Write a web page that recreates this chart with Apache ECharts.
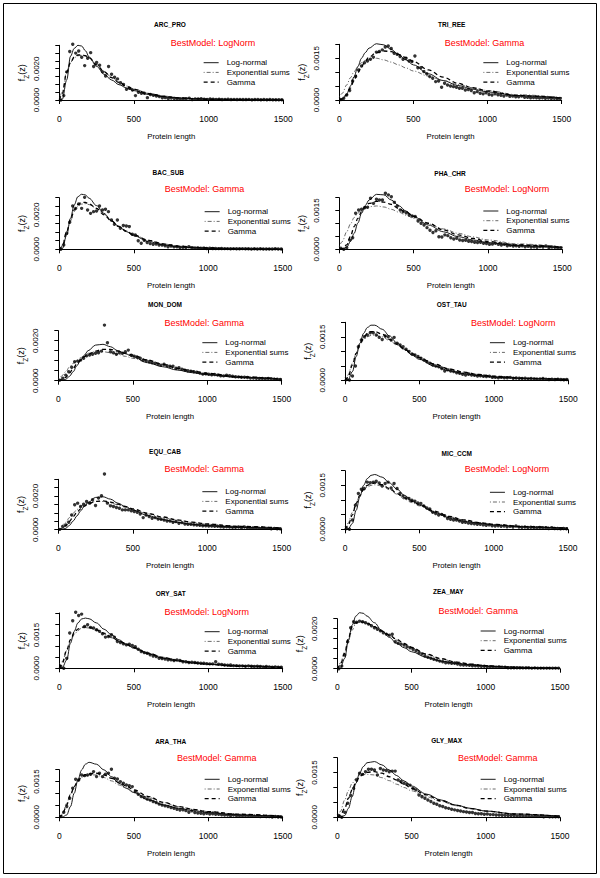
<!DOCTYPE html>
<html>
<head>
<meta charset="utf-8">
<title>Protein length distributions</title>
<script src="https://cdn.jsdelivr.net/npm/echarts@6/dist/echarts.min.js"></script>
<style>
  html, body { margin: 0; padding: 0; background: #fff; }
  #chart { width: 600px; height: 878px; }
</style>
</head>
<body>
<div id="chart"></div>
<script>
// all densities below are in units of 1e-4
const PANEL_NAMES = ['ARC_PRO', 'TRI_REE', 'BAC_SUB', 'PHA_CHR', 'MON_DOM', 'OST_TAU',
  'EQU_CAB', 'MIC_CCM', 'ORY_SAT', 'ZEA_MAY', 'ARA_THA', 'GLY_MAX'];
const BEST_MODELS = ['LogNorm', 'Gamma', 'Gamma', 'LogNorm', 'Gamma', 'LogNorm',
  'Gamma', 'LogNorm', 'LogNorm', 'Gamma', 'Gamma', 'Gamma'];
const LEGEND_NAMES = ['Log-normal', 'Exponential sums', 'Gamma'];
const X_TICKS = [0, 500, 1000, 1500];
// last tick of each y axis, and the ticks R printed a label for
const Y_TOPS = [0.0035, 0.0020, 0.0030, 0.0020, 0.0025, 0.0020, 0.0030, 0.0020, 0.0025, 0.0025, 0.0020, 0.0020];
const Y_LABELLED = [[0, 0.002], [0, 0.0015], [0, 0.002], [0, 0.0015], [0, 0.002], [0, 0.0015],
  [0, 0.002], [0, 0.0015], [0, 0.0015], [0, 0.002], [0, 0.0015], [0, 0.0015]];

const PTS_X = [10, 30, 50, 70, 90, 110, 130, 150, 170, 190, 210, 230, 250, 270, 290, 310, 330, 350, 370, 390,
  410, 430, 450, 470, 490, 510, 530, 550, 570, 590, 610, 630, 650, 670, 690, 710, 730, 750, 770, 790,
  810, 830, 850, 870, 890, 910, 930, 950, 970, 990, 1010, 1030, 1050, 1070, 1090, 1110, 1130, 1150, 1170, 1190,
  1210, 1230, 1250, 1270, 1290, 1310, 1330, 1350, 1370, 1390, 1410, 1430, 1450, 1470, 1490];
const CURVE_X = [0, 20, 50, 75, 100, 125, 150, 175, 200, 250, 300, 350, 400, 450, 500, 600, 700, 800, 900, 1000, 1200, 1500];

const ARC_PRO_PTS = [0, 2.8, 18, 31, 35.7, 30, 31.4, 27.4, 22, 26.7, 30.3, 21.4, 24, 22.2, 18, 15.4, 21.4, 16.5, 14.5, 13.5,
  11, 10, 6.8, 7.5, 6.4, 2.8, 5, 4.3, 4.3, 1.5,
  3.5, 3, 2.6, 2.2, 1.4, 1.5, 1, 1.2, 1, 0.8, 0.6, 0.7, 0.8, 1.2, 0.3, 0.7, 0.6, 0.8, 0.5, 0.4,
  0.6, 0.5, 0.4, 0.5, 0.3, 0.4, 0.5, 0.3, 0.4, 0.3, 0.4, 0.3, 0.3, 0.4, 0.2, 0.3, 0.3, 0.2, 0.3, 0.2, 0.3, 0.2, 0.2, 0.2, 0.2];
const ARC_PRO_LN = [0, 0.5, 13, 28, 33, 35, 34.5, 31.5, 27.5, 21.5, 16.5, 12.8, 9.8, 7.7, 6, 3.5, 2.1, 1.3, 0.85, 0.55, 0.25, 0.09];
const ARC_PRO_EXP = [1, 5, 18.5, 24, 27, 28.3, 28.6, 28, 27, 22.8, 18.3, 14.6, 11.5, 9, 7, 4.2, 2.5, 1.5, 0.9, 0.5, 0.17, 0.03];
const ARC_PRO_GAM = [0, 4, 18, 24, 27.5, 28.8, 29, 28.3, 27, 22.5, 18, 14.3, 11.2, 8.7, 6.8, 4.1, 2.4, 1.4, 0.8, 0.45, 0.15, 0.03];

const TRI_REE_PTS = [0.2, 0.6, 1.8, 3.4, 6.8, 8.4, 10.8, 12.2, 13.4, 14, 14.6, 15.4, 17.2, 17.4, 18, 19, 19.4, 18.5, 16.8, 16.4,
  15.6, 14.6, 15, 14, 13.8, 15.8, 11.6, 11.6, 10.2, 9.4,
  8.4, 7.8, 6.6, 6.8, 4.6, 6, 5.4, 5, 4.8, 4.6, 4.2, 4.2, 3.6, 3.8, 3.4, 2.6, 3, 2.4, 2.2, 2.6,
  2, 1.8, 2.2, 1.9, 1.7, 1.4, 1.8, 1.3, 1.4, 1.2, 1.2, 1.4, 1, 1, 0.8, 0.9, 0.8, 0.7, 0.8, 0.6, 0.7, 0.5, 0.6, 0.4, 0.5];
const TRI_REE_LN = [0, 0.2, 2.2, 5, 8.4, 12, 15, 17, 18.6, 20.2, 19.8, 18.2, 16.2, 14.4, 12.6, 9.4, 7, 5.2, 3.9, 2.9, 1.6, 0.8];
const TRI_REE_EXP = [1, 2.4, 5.4, 8, 10.2, 12, 13.4, 14.2, 14.6, 15, 14.4, 13.6, 12.6, 11.5, 10.4, 8.6, 7, 5.6, 4.4, 3.4, 1.9, 0.9];
const TRI_REE_GAM = [0, 0.4, 1.8, 4.3, 7.2, 9.8, 12, 14, 15.4, 17, 17.6, 17.4, 16.4, 15.2, 13.8, 10.8, 8.2, 6, 4.4, 3.2, 1.6, 0.6];

const BAC_SUB_PTS = [0, 2.5, 9.3, 15.7, 25.2, 23.8, 26.4, 23.8, 30.2, 22.9, 20.9, 21.9, 22.3, 25.2, 22.9, 23.3, 21.9, 17, 14.5, 17,
  12.2, 13.8, 13.6, 13.2, 8.7, 8.3, 5, 3.5, 5.2, 4,
  3.3, 2.9, 3.1, 2.5, 2.5, 2.1, 1.5, 1.9, 1.4, 1.5, 1, 1.2, 1, 1.5, 0.8, 0.7, 0.8, 0.6, 0.7, 0.5,
  0.6, 0.5, 0.5, 0.4, 0.5, 0.4, 0.4, 0.3, 0.4, 0.3, 0.3, 0.4, 0.3, 0.3, 0.2, 0.3, 0.2, 0.3, 0.2, 0.2, 0.2, 0.2, 0.3, 0.2, 0.2];
const BAC_SUB_LN = [0, 0.3, 8.3, 18, 25.8, 30.6, 32, 31.6, 29.7, 25.4, 20.9, 16.5, 13.2, 10.3, 7.9, 4.5, 2.5, 1.4, 0.9, 0.5, 0.25, 0.1];
const BAC_SUB_EXP = [1, 2.5, 10.5, 16.5, 22, 25, 26.3, 26.5, 26, 23.8, 20.3, 16.8, 13.5, 10.7, 8.4, 5.2, 3.1, 1.9, 1.2, 0.8, 0.3, 0.1];
const BAC_SUB_GAM = [0, 1.5, 10.3, 17, 22.9, 26, 27.3, 27.2, 26.4, 23.8, 20, 16.5, 13.2, 10.5, 8.3, 5.2, 3.1, 1.9, 1.2, 0.8, 0.3, 0.1];

const PHA_CHR_PTS = [0.4, 0, 0.6, 3.6, 4.5, 14, 15.2, 15.5, 16.1, 16.3, 19.8, 17.8, 19.4, 19.1, 19.1, 21.7, 21.1, 20.4, 18.2, 16.8,
  15.2, 14.6, 14.2, 13.3, 12.9, 12.7, 11, 10.1, 9.4, 8.4,
  7.4, 6.5, 7.2, 4.9, 4.8, 5.6, 5.3, 4.5, 4, 4.3, 3.6, 3.4, 3.5, 3.1, 3, 2.7, 2.6, 2.7, 2.3, 2.2,
  1.9, 2, 2.3, 1.9, 1.7, 1.9, 1.4, 1.6, 1.3, 1.4, 1.2, 1.4, 1, 1.2, 0.9, 1, 0.8, 1.1, 0.9, 1.3, 0.6, 0.9, 0.8, 0.5, 0.6];
const PHA_CHR_LN = [0, 0.1, 0.8, 3, 6.2, 10.2, 14, 17, 19.1, 21.3, 21.1, 19.1, 16.9, 14.8, 12.7, 9.4, 6.8, 4.9, 3.6, 2.6, 1.4, 0.6];
const PHA_CHR_EXP = [1, 3, 6.8, 9.8, 12.3, 14, 15.2, 16, 16.5, 16.8, 16.4, 15.5, 14.4, 13.2, 12, 9.8, 7.9, 6.2, 4.8, 3.6, 2.1, 0.9];
const PHA_CHR_GAM = [0, 0.3, 1.7, 5, 8.8, 12, 14.6, 16.5, 17.8, 18.6, 18.3, 17.4, 15.8, 14.3, 12.8, 10.1, 7.5, 5.6, 4.2, 3, 1.7, 0.8];

const MON_DOM_PTS = [0.3, 1.2, 2.8, 4.5, 6.7, 9.5, 9.8, 10.3, 11.2, 12.5, 12.8, 13.2, 13.7, 14, 14.8, 27.8, 19, 14.5, 14, 13.2,
  14, 13.7, 14.5, 15.3, 12.8, 12.3, 11.7, 11.2, 10.3, 10,
  9.5, 9, 8.7, 8.3, 7.8, 8.2, 7.5, 7.3, 7.3, 6.2, 6.5, 5.7, 5.3, 5, 4.8, 4.5, 4.2, 3.8, 3.3, 3.5,
  3.2, 3, 3.1, 2.8, 2.5, 2.4, 2.7, 2.5, 2.2, 2, 1.9, 1.7, 1.7, 1.6, 1.3, 1.3, 1.2, 1.1, 1.1, 1, 1.1, 1, 0.8, 0.8, 0.6];
const MON_DOM_LN = [0, 0.1, 0.7, 2.2, 4.5, 7.5, 10.3, 12.8, 15, 17.8, 18.2, 17, 15, 13.5, 12, 9, 7, 5.3, 4, 3, 1.7, 0.7];
const MON_DOM_EXP = [1, 2.2, 4.5, 6.8, 8.7, 10.2, 11.5, 12.7, 13.7, 14.5, 14.5, 14, 13.2, 12.2, 11.2, 9, 7.3, 5.7, 4.4, 3.3, 2, 0.8];
const MON_DOM_GAM = [0, 0.4, 1.7, 3.8, 6.2, 8.4, 10.3, 12, 13.2, 14.8, 15.7, 15.7, 14.8, 13.8, 12.8, 10.3, 8.2, 6.2, 4.8, 3.7, 2, 0.8];

const OST_TAU_PTS = [0.3, 0.1, 1.5, 4.9, 11.6, 13.9, 15, 15.6, 16.4, 16.4, 15.6, 14.8, 14.1, 15.3, 15, 13.9, 14.8, 12.8, 12.2, 11.6,
  10.7, 9.9, 9.1, 8.7, 8.2, 7.6, 7, 6.4, 5.9, 5.3,
  4.9, 4.7, 4.1, 3.2, 3.6, 3.2, 3, 2.6, 2.4, 2.1, 1.8, 2.1, 1.8, 1.7, 1.5, 1.6, 1.4, 1.3, 1.4, 1,
  1, 0.9, 1, 0.9, 0.9, 1, 0.7, 0.8, 0.7, 0.6, 0.7, 0.5, 0.6, 0.5, 0.4, 0.5, 0.6, 0.4, 0.3, 0.4, 0.3, 0.4, 0.3, 0.2, 0.3];
const OST_TAU_LN = [0, 0.1, 3, 8.2, 12.8, 16.2, 18.2, 19, 19, 17.6, 15.3, 12.8, 10.7, 8.7, 7.2, 4.9, 3.3, 2.3, 1.6, 1.1, 0.6, 0.25];
const OST_TAU_EXP = [1, 1.8, 5.9, 9.3, 12.2, 14, 15, 15.5, 15.6, 15, 13.7, 12.1, 10.5, 9, 7.6, 5.5, 3.9, 2.8, 2, 1.4, 0.7, 0.35];
const OST_TAU_GAM = [0, 1, 5.3, 9.3, 12.5, 14.7, 16.2, 16.8, 16.8, 15.9, 14.1, 12.4, 10.7, 9.2, 7.8, 5.6, 3.9, 2.8, 2, 1.4, 0.7, 0.25];

const EQU_CAB_PTS = [0.2, 1.8, 2.8, 4.4, 8.8, 14.8, 15.8, 13.8, 15.2, 16.8, 15.8, 17.8, 14.4, 18.8, 20.2, 33.2, 15.8, 14.2, 13.8, 13.2,
  12.8, 11.8, 11.8, 11.8, 11.2, 10.8, 10.4, 9.4, 7.2, 8.8,
  7.8, 6.8, 7.2, 6.4, 6.2, 5.8, 5.2, 5.2, 4.4, 4.8, 3.8, 4.2, 3.4, 3.2, 3.2, 3, 2.8, 2.6, 2.4, 2.4,
  2.2, 2.2, 2, 2, 1.8, 1.6, 1.8, 1.6, 1.4, 1.4, 1.6, 1.2, 1.6, 1.2, 1, 1, 1.2, 0.8, 1, 0.8, 0.8, 0.6, 0.8, 0.6, 0.6];
const EQU_CAB_LN = [0, 0.1, 0.8, 2.6, 5.2, 8.2, 11.2, 14, 16.2, 19.2, 19.6, 18.2, 15.8, 13.8, 11.8, 8.4, 6, 4.4, 3.2, 2.4, 1.4, 0.6];
const EQU_CAB_EXP = [1.2, 2.2, 4.4, 7.2, 9.8, 12, 13.8, 15, 15.8, 16.8, 16.8, 16, 14.8, 13.4, 12, 9.4, 7.2, 5.6, 4.3, 3.2, 2, 1];
const EQU_CAB_GAM = [0, 0.5, 2.4, 5, 7.8, 10.3, 12.4, 14, 15.4, 16.8, 17.2, 16.4, 15.2, 13.8, 12.4, 9.8, 7.6, 5.8, 4.5, 3.4, 2, 1];

const MIC_CCM_PTS = [0.3, 0, 3.2, 8.2, 12.2, 13.7, 13.9, 16.1, 15.9, 16.1, 16.4, 15.8, 14.8, 15.6, 16.1, 14.1, 15.6, 13.9, 12.2, 11.4,
  10.7, 10.5, 9.9, 9.6, 9, 8.8, 8, 7.3, 6.9, 5.8,
  5.4, 4.9, 5.1, 4.6, 3.7, 3.4, 3.2, 3.2, 2.8, 2.4, 2.4, 2.1, 2, 1.9, 1.7, 1.7, 1.5, 1.4, 1.5, 1.2,
  1.1, 1.2, 1, 1.1, 0.9, 1, 0.8, 1.1, 0.8, 0.7, 0.8, 0.6, 0.7, 0.6, 0.5, 0.6, 0.5, 0.5, 0.3, 0.5, 0.3, 0.3, 0.2, 0.3, 0.2];
const MIC_CCM_LN = [0, 0, 2, 6.5, 11.1, 15, 17.3, 18.4, 18.7, 17.8, 15.8, 13.7, 11.6, 9.8, 8.2, 5.8, 4, 2.8, 2.1, 1.5, 0.8, 0.35];
const MIC_CCM_EXP = [1, 2, 5.8, 9, 11.6, 13.3, 14.4, 15, 15.2, 14.8, 13.5, 12, 10.3, 9.1, 8, 6, 4.3, 3.2, 2.3, 1.7, 0.9, 0.35];
const MIC_CCM_GAM = [0, 1.2, 4.9, 8.8, 11.6, 13.6, 15, 15.6, 15.8, 15.2, 13.9, 12.2, 10.7, 9.5, 8.5, 6.2, 4.4, 3.2, 2.3, 1.7, 0.9, 0.35];

const ORY_SAT_PTS = [0.8, 0, 4.5, 16, 21.5, 25.3, 23.9, 24.5, 18.9, 19.7, 18.5, 18.2, 17.4, 16.7, 15.6, 14.1, 14.4, 15.2, 14.1, 12.1,
  11.7, 11.1, 10.6, 10.9, 10.3, 9.8, 8.6, 7.6, 7.1, 6.8,
  6.1, 5.6, 5.3, 4.5, 4.4, 4.2, 3.8, 3.8, 3.5, 3.8, 3.5, 3, 3, 2.6, 2.7, 2.6, 2.4, 2.3, 2.3, 2.1,
  2, 2, 3, 1.8, 1.7, 1.5, 1.4, 1.5, 1.2, 1.2, 1.1, 1.1, 0.9, 1.1, 0.9, 0.8, 0.9, 0.8, 0.6, 0.8, 0.6, 0.5, 0.6, 0.5, 0.5];
const ORY_SAT_LN = [0, 0.3, 3.8, 11.4, 16.7, 20.5, 22.3, 22.7, 22.4, 20.5, 17.7, 15.2, 12.9, 10.9, 9.1, 6.5, 4.5, 3.3, 2.4, 1.8, 1.1, 0.5];
const ORY_SAT_EXP = [2, 3, 8, 12, 15.2, 17, 18.2, 18.4, 18.2, 17.1, 15.5, 13.8, 12.1, 10.5, 9.1, 6.8, 5, 3.6, 2.7, 2, 1.2, 0.5];
const ORY_SAT_GAM = [0, 2.3, 8.3, 12.9, 15.9, 17.7, 18.6, 18.7, 18.5, 17.4, 15.9, 14.1, 12.4, 10.9, 9.4, 6.8, 4.8, 3.5, 2.5, 1.8, 0.9, 0.3];

const ZEA_MAY_PTS = [0, 1.3, 6.8, 13.5, 20.5, 23.5, 23.2, 23.8, 23.5, 23, 22.3, 21.5, 20.5, 19.7, 19, 18, 17.3, 16.8, 17.2, 13.5,
  12.7, 12.3, 11.8, 11, 10.5, 9.7, 9, 8, 7.3, 6.3,
  5.7, 5.2, 4.7, 4.3, 3.8, 3.5, 3, 3, 2.7, 2.7, 2.3, 2, 1.8, 1.8, 1.7, 1.5, 1.5, 1.3, 1.2, 1.2,
  1, 1, 0.8, 0.8, 0.7, 0.7, 0.7, 0.5, 0.5, 0.5, 0.5, 0.4, 0.4, 0.4, 0.4, 0.3, 0.4, 0.3, 0.3, 0.3, 0.3, 0.3, 0.3, 0.3, 0.3];
const ZEA_MAY_LN = [0, 0.2, 5.2, 14.3, 21.8, 26.3, 28, 27.7, 26.3, 23, 19, 15.7, 12.7, 10.5, 8.5, 5.7, 3.8, 2.7, 1.9, 1.3, 0.7, 0.2];
const ZEA_MAY_EXP = [1, 2.7, 8.5, 14.3, 19.3, 22.7, 23.2, 23.1, 22.7, 21, 18.8, 16.5, 14.3, 12.2, 10.3, 7.2, 4.8, 3.3, 2.2, 1.5, 0.7, 0.2];
const ZEA_MAY_GAM = [0, 1.8, 7.7, 15.2, 21, 23, 23.5, 23.3, 22.7, 21, 18.8, 16.8, 14.7, 12.6, 10.7, 7.3, 5, 3.3, 2.3, 1.5, 0.7, 0.2];

const ARA_THA_PTS = [0.3, 2.1, 4.5, 8, 12.2, 16, 15.7, 17.8, 17.5, 17.8, 18.1, 19.2, 17.1, 18.5, 17.1, 18.1, 18.5, 20.2, 16.4, 16.1,
  15, 14.3, 13.6, 13.3, 12.9, 10.8, 9.7, 8.7, 8.3, 7.7,
  7.3, 6.6, 6.2, 5.6, 5.2, 4.8, 4.5, 4.1, 3.8, 3.4, 3.1, 3.2, 2.8, 2.1, 2.7, 2, 1.8, 1.7, 1.5, 1.7,
  1.4, 1.5, 1.3, 1.3, 1.1, 1, 1, 0.7, 1, 0.7, 0.7, 0.6, 0.7, 0.6, 0.4, 0.4, 0.4, 0.3, 0.4, 0.3, 0.3, 0.1, 0.3, 0.1, 0.1];
const ARA_THA_LN = [0, 0.1, 1, 4.5, 10.1, 15.7, 19.9, 22.3, 23.1, 22.3, 19.9, 17.1, 14.3, 12.2, 10.4, 7.3, 5.2, 3.8, 2.8, 2, 1, 0.3];
const ARA_THA_EXP = [1, 1.7, 5.9, 9.8, 12.9, 15.1, 16.7, 17.4, 17.8, 17.8, 16.7, 15.3, 13.6, 12.2, 10.8, 8.3, 6.2, 4.5, 3.3, 2.4, 1.3, 0.4];
const ARA_THA_GAM = [0, 1, 5.2, 9.4, 12.9, 15.3, 17.1, 17.9, 18.3, 18.5, 17.8, 16.4, 14.7, 13.1, 11.5, 8.7, 6.3, 4.5, 3.3, 2.4, 1.3, 0.4];

const GLY_MAX_PTS = [0.6, 0, 1.7, 4.7, 7.3, 9.7, 12.5, 14.8, 14.4, 15.3, 16.1, 16.1, 15.9, 14.2, 16.4, 15.9, 15.7, 15.3, 15.5, 15.5,
  12.5, 12, 11.4, 11.1, 10.8, 9.7, 9.2, 7.5, 6.9, 6.4,
  5.8, 5.3, 4.7, 4.4, 3.9, 3.6, 3.2, 3, 2.7, 2.5, 2.3, 2.1, 1.9, 1.8, 1.6, 1.6, 1.3, 1.2, 1.2, 1,
  1.1, 0.9, 0.9, 0.8, 0.8, 0.7, 0.7, 0.6, 0.6, 0.6, 0.4, 0.5, 0.4, 0.4, 0.4, 0.3, 0.3, 0.3, 0.3, 0.2, 0.3, 0.2, 0.2, 0.2, 0.2];
const GLY_MAX_LN = [0, 0.1, 0.6, 3, 6.9, 11.4, 14.8, 17, 18.3, 18.7, 17.6, 15.9, 14, 12.2, 10.5, 7.8, 5.8, 4.1, 3, 2.1, 1.1, 0.35];
const GLY_MAX_EXP = [1, 1.9, 5.8, 9, 11.4, 13, 14, 14.3, 14.4, 14.2, 13.3, 12.3, 11.1, 10, 8.9, 6.9, 5.3, 3.9, 2.9, 2.1, 1.1, 0.35];
const GLY_MAX_GAM = [0, 0.6, 3, 6.4, 9.2, 11.7, 13.6, 14.6, 15.1, 15.3, 14.8, 13.6, 12.5, 11.1, 9.7, 7.5, 5.5, 4, 2.9, 2.1, 1.1, 0.35];

const PANEL_DATA = [
  [ARC_PRO_PTS, ARC_PRO_LN, ARC_PRO_EXP, ARC_PRO_GAM],
  [TRI_REE_PTS, TRI_REE_LN, TRI_REE_EXP, TRI_REE_GAM],
  [BAC_SUB_PTS, BAC_SUB_LN, BAC_SUB_EXP, BAC_SUB_GAM],
  [PHA_CHR_PTS, PHA_CHR_LN, PHA_CHR_EXP, PHA_CHR_GAM],
  [MON_DOM_PTS, MON_DOM_LN, MON_DOM_EXP, MON_DOM_GAM],
  [OST_TAU_PTS, OST_TAU_LN, OST_TAU_EXP, OST_TAU_GAM],
  [EQU_CAB_PTS, EQU_CAB_LN, EQU_CAB_EXP, EQU_CAB_GAM],
  [MIC_CCM_PTS, MIC_CCM_LN, MIC_CCM_EXP, MIC_CCM_GAM],
  [ORY_SAT_PTS, ORY_SAT_LN, ORY_SAT_EXP, ORY_SAT_GAM],
  [ZEA_MAY_PTS, ZEA_MAY_LN, ZEA_MAY_EXP, ZEA_MAY_GAM],
  [ARA_THA_PTS, ARA_THA_LN, ARA_THA_EXP, ARA_THA_GAM],
  [GLY_MAX_PTS, GLY_MAX_LN, GLY_MAX_EXP, GLY_MAX_GAM]
];

// panel placement in page pixels: x of 0 and 1500, y of 0 and of the top tick, text anchors
const LAYOUT = [
  { x0: 59.3, x1: 283.3, y0: 100,   yt: 45.3,  tx: 170,   ty: 24,    bx: 213,   by: 42.7,  lx: 203,   ly: 58.7 },
  { x0: 339.3, x1: 561.7, y0: 100,  yt: 44.3,  tx: 451.7, ty: 24,    bx: 484.5, by: 42.7,  lx: 482.7, ly: 58.7 },
  { x0: 59.3, x1: 282.7, y0: 249.3, yt: 197.7, tx: 168.3, ty: 172.7, bx: 204.5, by: 188.7, lx: 204,   ly: 207.7 },
  { x0: 339.3, x1: 562.3, y0: 249.3, yt: 197.7, tx: 450,  ty: 173.3, bx: 507,   by: 188.7, lx: 482.7, ly: 207 },
  { x0: 58.3, x1: 281.7, y0: 380.7, yt: 330.7, tx: 165,   ty: 304.3, bx: 204.3, by: 323.3, lx: 201.7, ly: 338.7 },
  { x0: 345, x1: 568.3, y0: 380.3,  yt: 322.3, tx: 451.7, ty: 304,   bx: 513.3, by: 323.3, lx: 489.3, ly: 338.7 },
  { x0: 58.3, x1: 281.7, y0: 529.7, yt: 479.3, tx: 165,   ty: 451,   bx: 204.3, by: 469.3, lx: 201.7, ly: 487.7 },
  { x0: 345, x1: 568, y0: 529.3,    yt: 470.7, tx: 456.7, ty: 453.3, bx: 507,   by: 469.3, lx: 489.3, ly: 488.3 },
  { x0: 59.3, x1: 282.7, y0: 668.3, yt: 613,   tx: 170.7, ty: 593.3, bx: 206.8, by: 611.7, lx: 204,   ly: 627.7 },
  { x0: 337.3, x1: 560, y0: 668.7,  yt: 618.7, tx: 448.3, ty: 591.7, bx: 478.3, by: 611,   lx: 480,   ly: 627 },
  { x0: 59.3, x1: 282.7, y0: 817.3, yt: 769.7, tx: 170.7, ty: 741,   bx: 216.7, by: 757.7, lx: 204,   ly: 775.3 },
  { x0: 337.3, x1: 560, y0: 817.3,  yt: 757.7, tx: 446.7, ty: 740,   bx: 497.8, by: 757.7, lx: 480,   ly: 775.3 }
];

const FONT = '"Liberation Sans", Arial, Helvetica, sans-serif';
const LINE_STYLES = [
  { color: '#000', width: 0.9, type: 'solid' },
  { color: '#444', width: 0.8, type: [1, 2, 4, 2] },
  { color: '#000', width: 1.3, type: [4, 3] }
];

const chart = echarts.init(document.getElementById('chart'), null, { renderer: 'svg' });

const grid = [], xAxis = [], yAxis = [], series = [], legend = [], title = [];

PANEL_NAMES.forEach((name, i) => {
  const L = LAYOUT[i];
  const [pts, ln, ex, gm] = PANEL_DATA[i];
  const labelled = Y_LABELLED[i];

  grid.push({ left: L.x0, top: L.yt, width: L.x1 - L.x0, height: L.y0 - L.yt });

  xAxis.push({
    gridIndex: i, type: 'value', min: X_TICKS[0], max: X_TICKS[X_TICKS.length - 1], interval: 500,
    offset: 7,
    axisLine: { show: true, lineStyle: { color: '#000', width: 1 } },
    axisTick: { show: true, length: 4, lineStyle: { color: '#000', width: 1 } },
    axisLabel: { fontSize: 8.5, color: '#000', margin: 7, fontFamily: FONT, formatter: v => String(v) },
    splitLine: { show: false },
    name: 'Protein length', nameLocation: 'middle', nameGap: 25,
    nameTextStyle: { fontSize: 7.8, color: '#000', fontFamily: FONT }
  });

  yAxis.push({
    gridIndex: i, type: 'value', min: 0, max: Y_TOPS[i], interval: 0.0005,
    offset: 8.5,
    axisLine: { show: true, lineStyle: { color: '#000', width: 1 } },
    axisTick: { show: true, length: 4, lineStyle: { color: '#000', width: 1 } },
    axisLabel: {
      rotate: 90, fontSize: 8, color: '#000', margin: 10, fontFamily: FONT,
      formatter: v => labelled.some(t => Math.abs(t - v) < 1e-9) ? v.toFixed(4) : ''
    },
    splitLine: { show: false },
    name: '{f|f}{s|Z}{f|(z)}', nameLocation: 'middle', nameRotate: 90, nameGap: 21,
    nameTextStyle: {
      color: '#000', fontFamily: FONT,
      rich: {
        f: { fontSize: 9, lineHeight: 12, verticalAlign: 'top', fontFamily: FONT, color: '#000' },
        s: { fontSize: 6.5, lineHeight: 12, verticalAlign: 'bottom', fontFamily: FONT, color: '#000' }
      }
    }
  });

  series.push({
    type: 'scatter', xAxisIndex: i, yAxisIndex: i, silent: true, clip: false, z: 3,
    symbol: 'circle', symbolSize: 3.4, itemStyle: { color: '#000' },
    data: PTS_X.map((x, k) => [x, pts[k] / 1e4])
  });

  [ln, ex, gm].forEach((curve, j) => {
    series.push({
      type: 'line', name: LEGEND_NAMES[j], xAxisIndex: i, yAxisIndex: i,
      silent: true, clip: false, z: 2,
      smooth: 0.35, smoothMonotone: 'x', symbol: 'none', showSymbol: false,
      lineStyle: LINE_STYLES[j], itemStyle: { color: LINE_STYLES[j].color },
      data: CURVE_X.map((x, k) => [x, curve[k] / 1e4])
    });
  });

  legend.push({
    orient: 'vertical', left: L.lx, top: L.ly, padding: 0,
    itemWidth: 15, itemHeight: 8, itemGap: 1.7, selectedMode: false,
    itemStyle: { opacity: 0, borderWidth: 0 },
    data: LEGEND_NAMES.map((n, j) => ({
      name: n,
      lineStyle: { width: LINE_STYLES[j].width, type: LINE_STYLES[j].type, color: LINE_STYLES[j].color }
    })),
    textStyle: { fontSize: 8, color: '#000', fontFamily: FONT, padding: [0, 0, 0, 3] }
  });

  title.push({
    text: name, left: L.tx, top: L.ty, textAlign: 'center', textVerticalAlign: 'middle', padding: 0,
    textStyle: { fontSize: 6.5, fontWeight: 'bold', color: '#000', fontFamily: FONT }
  });
  title.push({
    text: 'BestModel: ' + BEST_MODELS[i], left: L.bx, top: L.by, textAlign: 'center', textVerticalAlign: 'middle', padding: 0,
    textStyle: { fontSize: 9, fontWeight: 'normal', color: '#ff0000', fontFamily: FONT }
  });
});

chart.setOption({
  animation: false,
  backgroundColor: '#fff',
  title, grid, xAxis, yAxis, legend, series,
  graphic: [{
    type: 'rect', silent: true,
    shape: { x: 3.5, y: 3.5, width: 593, height: 870 },
    style: { fill: 'none', stroke: '#000', lineWidth: 1 }
  }]
});
</script>
</body>
</html>
